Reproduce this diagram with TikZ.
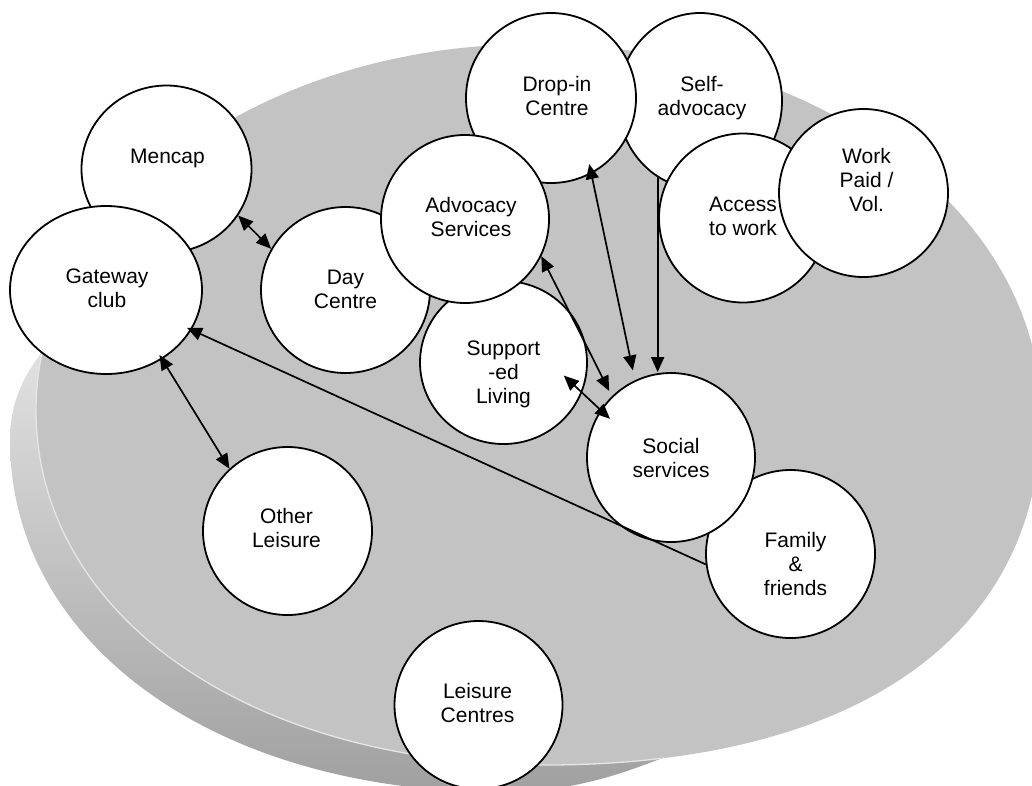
\documentclass[tikz,border=0pt]{standalone}
\usepackage{fontspec}
\setmainfont{Liberation Sans}
\usetikzlibrary{shapes.geometric,arrows.meta}
\definecolor{facegray}{HTML}{C3C3C3}
\definecolor{rimlight}{HTML}{E2E2E2}
\definecolor{rimmid}{HTML}{D0D0D0}
\definecolor{rimdark}{HTML}{A0A0A0}
\definecolor{edgehl}{HTML}{E6E6E6}
\newcommand\facepath{(36,410) .. controls (36,208) and (259.4,44) .. (535,44)
  .. controls (814.5,44) and (1041,210) .. (1041,415)
  .. controls (1041,635.5) and (857.5,765) .. (545,765)
  .. controls (249.8,765) and (36,616) .. (36,410) -- cycle}
\newcommand\rimpath{(48,345) .. controls (22,375) and (10,405) .. (10,440)
  .. controls (10,644) and (216,792) .. (500,792)
  .. controls (580,792) and (630,770) .. (668,756) -- (540,400) -- cycle}
\begin{document}
\begin{tikzpicture}[x=1pt,y=-1pt,
  bub/.style={ellipse, draw=black, fill=white, line width=1.8pt, inner sep=0pt,
              minimum width=168pt, minimum height=168pt},
  lbl/.style={align=center, font=\fontsize{21}{24}\selectfont, inner sep=0pt},
  link/.style={line width=1.7pt, draw=black},
  twoway/.style={{Triangle[length=15pt,width=13pt]}-{Triangle[length=15pt,width=13pt]}},
  oneway/.style={-{Triangle[length=15pt,width=13pt]}}
]
\clip (0,0) rectangle (1032,785);
% disk side (rim)
\shade[top color=rimlight, middle color=rimmid, bottom color=rimdark] \rimpath;
% disk top face
\fill[facegray] \facepath;
% highlight along the front edge
\begin{scope}
  \clip \rimpath;
  \draw[edgehl, line width=1.3pt] \facepath;
\end{scope}

% bubbles (back to front)
\node[bub, minimum width=164pt, minimum height=176pt,
  label={[lbl, xshift=2pt, yshift=3pt]center:{Self-\\advocacy}}] (selfadv) at (700,101) {};
\node[bub, minimum width=170pt, minimum height=170pt,
  label={[lbl, xshift=6pt, yshift=2pt]center:{Drop-in\\Centre}}] (dropin) at (551,98) {};
\node[bub, minimum width=169pt, minimum height=166pt,
  label={[lbl, yshift=1pt]center:{Day\\Centre}}] (day) at (345.5,290) {};
\node[bub, minimum width=167pt, minimum height=163pt,
  label={[lbl, yshift=-12pt]center:{Support\\-ed\\Living}}] (sup) at (503.5,362.5) {};
\node[bub,
  label={[lbl, xshift=6pt, yshift=2pt]center:{Advocacy\\Services}}] (adv) at (465,219) {};
\node[bub, minimum width=168pt, minimum height=169pt,
  label={[lbl, yshift=2pt]center:{Access\\to work}}] (access) at (743,218) {};
\node[bub, minimum width=169pt, minimum height=168pt,
  label={[lbl, xshift=3pt, yshift=13pt]center:{Work\\Paid /\\Vol.}}] (work) at (863.5,193) {};
\node[bub, minimum width=170pt, minimum height=167pt,
  label={[lbl, xshift=1pt, yshift=11pt]center:{Mencap}}] (mencap) at (166.5,169) {};
\node[bub, minimum width=192pt, minimum height=168pt,
  label={[lbl, xshift=1pt, yshift=2pt]center:{Gateway\\club}}] (gateway) at (106,290) {};
\node[bub, minimum width=169pt, minimum height=168pt,
  label={[lbl, xshift=5pt, yshift=-10pt]center:{Family\\\&\\friends}}] (family) at (790.5,554) {};
\node[bub, minimum width=168pt, minimum height=169pt,
  label={[lbl]center:{Social\\services}}] (social) at (671,457.5) {};
\node[bub, minimum width=169pt, minimum height=168pt,
  label={[lbl, xshift=-1pt, yshift=3pt]center:{Other\\Leisure}}] (other) at (287.5,531) {};
\node[bub, minimum width=168pt, minimum height=168pt,
  label={[lbl, xshift=-1pt, yshift=2pt]center:{Leisure\\Centres}}] (leisure) at (478.5,705) {};

% connectors
\draw[link, twoway] (mencap.-33) -- (day.151.3);
\draw[link, twoway, shorten <=-5pt] (gateway.-51) -- (other.133.8);
\draw[link, oneway, shorten >=-5pt] (family.187.5) -- (gateway.-25.6);
\draw[link, twoway, shorten <=-10pt, shorten >=10pt] (dropin.-62.1) -- (social.115.5);
\draw[link, oneway] (selfadv.241.4) -- (selfadv.241.4 |- social.north);
\draw[link, twoway, shorten >=6pt] (adv.-26.9) -- (social.134);
\draw[link, twoway, shorten <=-25pt, shorten >=-13pt] (sup.-21) -- (social.146.4);
\end{tikzpicture}
\end{document}
